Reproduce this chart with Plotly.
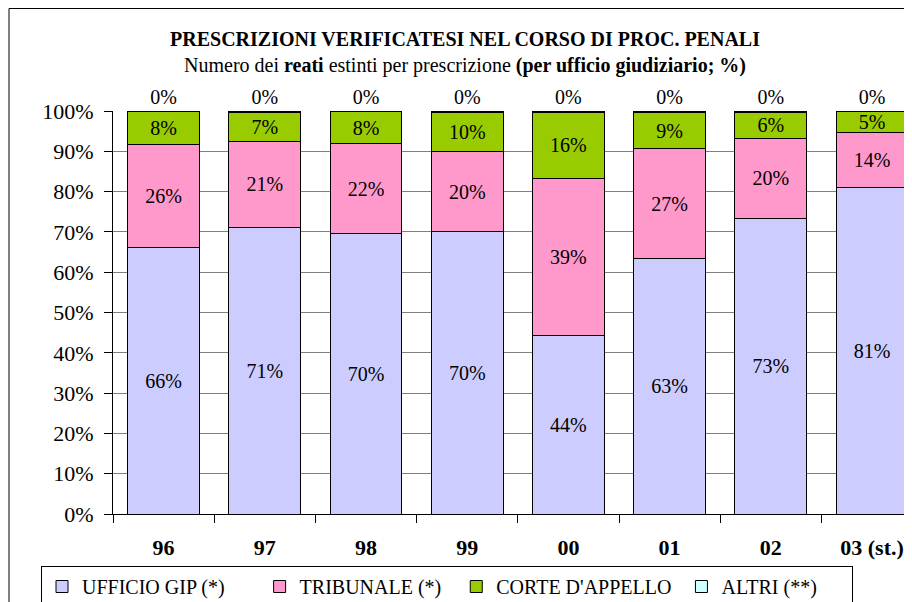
import plotly.graph_objects as go

categories = ["96", "97", "98", "99", "00", "01", "02", "03 (st.)"]
ufficio_gip = [66.2, 71.2, 69.6, 70.0, 44.2, 63.3, 73.3, 81.1]
tribunale = [25.6, 21.3, 22.3, 19.9, 39.1, 27.3, 20.0, 13.6]
corte_appello = [8.0, 7.2, 7.9, 9.8, 16.4, 9.1, 6.4, 5.1]
altri = [0.2, 0.3, 0.2, 0.3, 0.3, 0.3, 0.3, 0.2]
y_ticks = list(range(0, 101, 10))
y_tick_labels = [f"{v}%" for v in y_ticks]

NB = "\u00a0"
series = [
    ("UFFICIO GIP (*)" + NB * 6, ufficio_gip, "#CCCCFF", "inside"),
    ("TRIBUNALE (*)" + NB * 2, tribunale, "#FF99CC", "inside"),
    ("CORTE D'APPELLO" + NB * 1, corte_appello, "#99CC00", "inside"),
    ("ALTRI (**)" + NB * 6, altri, "#CCFFFF", "outside"),
]

FONT = "Liberation Serif, Times New Roman, Times, DejaVu Serif, serif"
W, H = 912, 602
fig = go.Figure()
for name, vals, color, pos in series:
    fig.add_trace(go.Bar(
        x=categories, y=vals, name=name,
        marker=dict(color=color, line=dict(color="black", width=1)),
        text=vals, texttemplate="%{y:.0f}%", textposition=pos,
        insidetextanchor="middle", textangle=0, constraintext="none",
        textfont=dict(family=FONT, size=20, color="black"),
        outsidetextfont=dict(family=FONT, size=20, color="black"),
        cliponaxis=False,
    ))

fig.update_layout(
    width=W, height=H,
    barmode="stack", bargap=0.29,
    plot_bgcolor="white", paper_bgcolor="white",
    margin=dict(l=105, r=0, t=103, b=96, autoexpand=False),
    font=dict(family=FONT, size=20, color="black"),
    title=dict(
        text="<b>PRESCRIZIONI VERIFICATESI NEL CORSO DI PROC. PENALI</b><br>"
             "<span style='font-size:20px'>Numero dei <b>reati</b> estinti per prescrizione "
             "<b>(per ufficio giudiziario; %)</b></span>",
        font=dict(family=FONT, size=20, color="black"),
        xref="container", x=457 / W, xanchor="center",
        yref="container", y=1 - 38 / H, yanchor="top",
    ),
    legend=dict(
        orientation="h", traceorder="normal",
        xref="container", yref="container",
        x=33 / W, y=1 - 558 / H, xanchor="left", yanchor="top",
        bordercolor="black", borderwidth=1, itemwidth=30,
        font=dict(family=FONT, size=20, color="black"),
        bgcolor="white",
    ),
    xaxis=dict(
        type="category", range=[-0.5, 7.474],
        showline=True, linecolor="black", linewidth=1,
        ticks="outside", ticklen=8, tickcolor="black", tickson="boundaries",
        tickfont=dict(family=FONT, size=22, color="black", weight="bold"),
        ticklabelstandoff=14, showgrid=False,
    ),
    yaxis=dict(
        range=[0, 100.001], tickvals=y_ticks, ticktext=y_tick_labels,
        showline=True, linecolor="black", linewidth=1,
        ticks="outside", ticklen=8, tickcolor="black",
        tickfont=dict(family=FONT, size=22, color="black"),
        ticklabelstandoff=6,
        showgrid=True, gridcolor="#808080", gridwidth=1, zeroline=False,
    ),
    shapes=[dict(
        type="rect", xref="paper", yref="paper",
        x0=(1 - 105) / 807, x1=2, y0=-1, y1=(506 - 0.5) / 403,
        line=dict(color="black", width=1), layer="below",
    )],
)

fig.write_html("out.html")
